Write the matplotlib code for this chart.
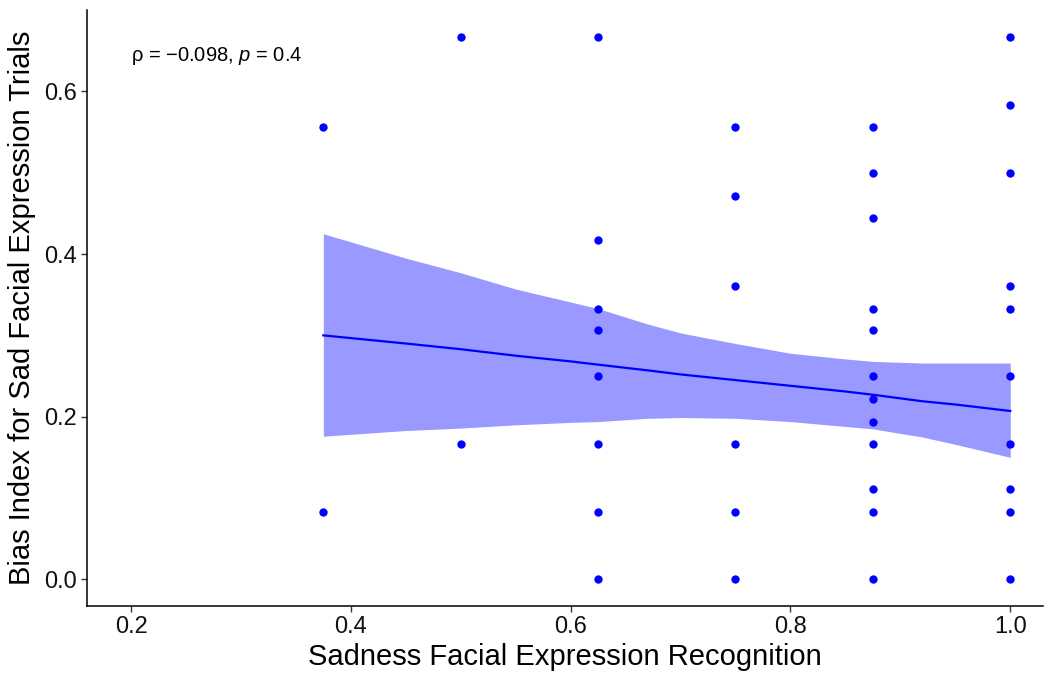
import numpy as np
import matplotlib
matplotlib.use("Agg")
import matplotlib.pyplot as plt

plt.rcParams['font.family'] = ['Liberation Sans', 'DejaVu Sans']
plt.rcParams['mathtext.fontset'] = 'custom'
plt.rcParams['mathtext.rm'] = 'Liberation Sans'
plt.rcParams['mathtext.it'] = 'Liberation Sans:italic'

# scatter points (recognition score, bias index)
x_375 = [0.556, 0.083]
x_500 = [0.667, 0.167]
x_625 = [0.667, 0.417, 0.333, 0.306, 0.25, 0.167, 0.083, 0.0]
x_750 = [0.556, 0.472, 0.361, 0.167, 0.083, 0.0]
x_875 = [0.556, 0.5, 0.444, 0.333, 0.306, 0.25, 0.222, 0.194, 0.167, 0.111, 0.083, 0.0]
x_1000 = [0.667, 0.583, 0.5, 0.361, 0.333, 0.25, 0.167, 0.111, 0.083, 0.0]
groups = {0.375: x_375, 0.5: x_500, 0.625: x_625, 0.75: x_750, 0.875: x_875, 1.0: x_1000}

# smooth line + confidence band
fit_x = [0.375, 0.45, 0.50, 0.55, 0.60, 0.625, 0.67, 0.70, 0.75, 0.80, 0.85, 0.875, 0.92, 0.95, 1.0]
fit_y = [0.300, 0.290, 0.283, 0.275, 0.268, 0.264, 0.257, 0.252, 0.245, 0.238, 0.231, 0.227, 0.219, 0.215, 0.207]
fit_hi = [0.425, 0.395, 0.377, 0.357, 0.341, 0.333, 0.314, 0.303, 0.290, 0.278, 0.271, 0.268, 0.266, 0.266, 0.266]
fit_lo = [0.176, 0.183, 0.186, 0.190, 0.193, 0.194, 0.198, 0.199, 0.198, 0.194, 0.188, 0.185, 0.175, 0.166, 0.150]

xs = []
ys = []
for gx, vals in groups.items():
    xs += [gx] * len(vals)
    ys += vals

fig = plt.figure(figsize=(10.45, 6.75), dpi=100)
ax = fig.add_axes([0.0833, 0.102, 0.915, 0.883])

ax.fill_between(fit_x, fit_lo, fit_hi, color='#9999ff', linewidth=0, zorder=1)
ax.plot(fit_x, fit_y, color='#0000ff', linewidth=1.6, zorder=2)
ax.scatter(xs, ys, s=36, color='#0000ff', linewidths=0, zorder=3)

ax.text(0.2, 0.643, r'ρ = −0.098, $\it{p}$ = 0.4', fontsize=14.5, ha='left', va='center')

ax.set_xlim(0.16, 1.03)
ax.set_ylim(-0.033, 0.70)
ax.set_xticks([0.2, 0.4, 0.6, 0.8, 1.0])
ax.set_xticklabels(['0.2', '0.4', '0.6', '0.8', '1.0'])
ax.set_yticks([0.0, 0.2, 0.4, 0.6])
ax.set_yticklabels(['0.0', '0.2', '0.4', '0.6'])

for s in ['top', 'right']:
    ax.spines[s].set_visible(False)
for s in ['left', 'bottom']:
    ax.spines[s].set_linewidth(1.1)
ax.tick_params(labelsize=17, length=4, color='#333333', labelcolor='#111111', width=1, pad=3)

ax.set_xlabel('Sadness Facial Expression Recognition', fontsize=21, labelpad=4)
ax.set_ylabel('Bias Index for Sad Facial Expression Trials', fontsize=21, labelpad=6)

fig.savefig('out.png', dpi=100)
